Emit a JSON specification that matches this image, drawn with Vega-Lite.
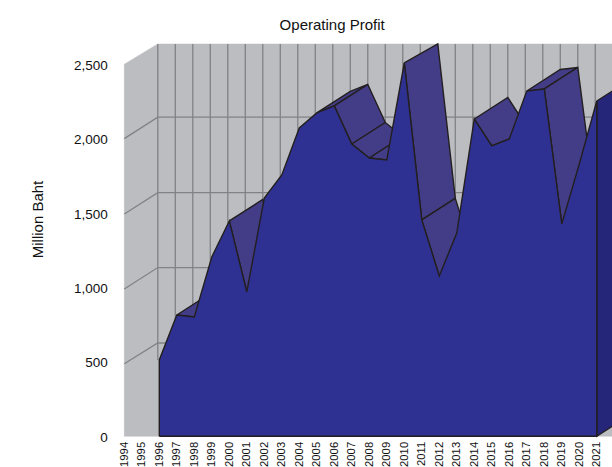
{"$schema":"https://vega.github.io/schema/vega-lite/v6.json","width":487.7,"height":392.3,"autosize":"none","padding":{"left":124.3,"top":44,"right":0,"bottom":30.7},"background":"white","config":{"view":{"stroke":null},"font":"Liberation Sans"},
"title":{"text":"Operating Profit","font":"Liberation Sans","fontSize":15,"fontWeight":"normal","color":"#111111","anchor":"middle","dx":-36,"offset":8},
"datasets":{
"wall":[{"x":1994,"y":2500,"o":1},{"x":1995.914,"y":2636,"o":2},{"x":2023,"y":2636,"o":3},{"x":2023,"y":0,"o":4},{"x":1994,"y":0,"o":5},{"x":1994,"y":2500,"o":6}],
"grid":[
{"g":"h500","x":1994,"y":487,"o":1},{"g":"h500","x":1995.914,"y":627,"o":2},{"g":"h500","x":2023,"y":627,"o":3},
{"g":"h1000","x":1994,"y":990,"o":1},{"g":"h1000","x":1995.914,"y":1134,"o":2},{"g":"h1000","x":2023,"y":1134,"o":3},
{"g":"h1500","x":1994,"y":1494,"o":1},{"g":"h1500","x":1995.914,"y":1637,"o":2},{"g":"h1500","x":2023,"y":1637,"o":3},
{"g":"h2000","x":1994,"y":2000,"o":1},{"g":"h2000","x":1995.914,"y":2144.5,"o":2},{"g":"h2000","x":2023,"y":2144.5,"o":3},
{"g":"v1996","x":1995.914,"y":513,"o":1},{"g":"v1996","x":1995.914,"y":2636,"o":2},
{"g":"v1997","x":1996.914,"y":144.5,"o":1},{"g":"v1997","x":1996.914,"y":2636,"o":2},
{"g":"v1998","x":1997.914,"y":144.5,"o":1},{"g":"v1998","x":1997.914,"y":2636,"o":2},
{"g":"v1999","x":1998.914,"y":144.5,"o":1},{"g":"v1999","x":1998.914,"y":2636,"o":2},
{"g":"v2000","x":1999.914,"y":144.5,"o":1},{"g":"v2000","x":1999.914,"y":2636,"o":2},
{"g":"v2001","x":2000.914,"y":144.5,"o":1},{"g":"v2001","x":2000.914,"y":2636,"o":2},
{"g":"v2002","x":2001.914,"y":144.5,"o":1},{"g":"v2002","x":2001.914,"y":2636,"o":2},
{"g":"v2003","x":2002.914,"y":144.5,"o":1},{"g":"v2003","x":2002.914,"y":2636,"o":2},
{"g":"v2004","x":2003.914,"y":144.5,"o":1},{"g":"v2004","x":2003.914,"y":2636,"o":2},
{"g":"v2005","x":2004.914,"y":144.5,"o":1},{"g":"v2005","x":2004.914,"y":2636,"o":2},
{"g":"v2006","x":2005.914,"y":144.5,"o":1},{"g":"v2006","x":2005.914,"y":2636,"o":2},
{"g":"v2007","x":2006.914,"y":144.5,"o":1},{"g":"v2007","x":2006.914,"y":2636,"o":2},
{"g":"v2008","x":2007.914,"y":144.5,"o":1},{"g":"v2008","x":2007.914,"y":2636,"o":2},
{"g":"v2009","x":2008.914,"y":144.5,"o":1},{"g":"v2009","x":2008.914,"y":2636,"o":2},
{"g":"v2010","x":2009.914,"y":144.5,"o":1},{"g":"v2010","x":2009.914,"y":2636,"o":2},
{"g":"v2011","x":2010.914,"y":144.5,"o":1},{"g":"v2011","x":2010.914,"y":2636,"o":2},
{"g":"v2012","x":2011.914,"y":144.5,"o":1},{"g":"v2012","x":2011.914,"y":2636,"o":2},
{"g":"v2013","x":2012.914,"y":144.5,"o":1},{"g":"v2013","x":2012.914,"y":2636,"o":2},
{"g":"v2014","x":2013.914,"y":144.5,"o":1},{"g":"v2014","x":2013.914,"y":2636,"o":2},
{"g":"v2015","x":2014.914,"y":144.5,"o":1},{"g":"v2015","x":2014.914,"y":2636,"o":2},
{"g":"v2016","x":2015.914,"y":144.5,"o":1},{"g":"v2016","x":2015.914,"y":2636,"o":2},
{"g":"v2017","x":2016.914,"y":144.5,"o":1},{"g":"v2017","x":2016.914,"y":2636,"o":2},
{"g":"v2018","x":2017.914,"y":144.5,"o":1},{"g":"v2018","x":2017.914,"y":2636,"o":2},
{"g":"v2019","x":2018.914,"y":144.5,"o":1},{"g":"v2019","x":2018.914,"y":2636,"o":2},
{"g":"v2020","x":2019.914,"y":144.5,"o":1},{"g":"v2020","x":2019.914,"y":2636,"o":2},
{"g":"v2021","x":2020.914,"y":144.5,"o":1},{"g":"v2021","x":2020.914,"y":2636,"o":2}
],
"quads":[
{"g":"a01","x":1997,"y":815,"o":1},{"g":"a01","x":1998,"y":802,"o":2},{"g":"a01","x":1999.914,"y":946.5,"o":3},{"g":"a01","x":1998.914,"y":959.5,"o":4},{"g":"a01","x":1997,"y":815,"o":5},
{"g":"a02","x":2000,"y":1447,"o":1},{"g":"a02","x":2001,"y":970,"o":2},{"g":"a02","x":2002.914,"y":1114.5,"o":3},{"g":"a02","x":2001.914,"y":1591.5,"o":4},{"g":"a02","x":2000,"y":1447,"o":5},
{"g":"a03","x":2005,"y":2173,"o":1},{"g":"a03","x":2006,"y":2220,"o":2},{"g":"a03","x":2007.914,"y":2364.5,"o":3},{"g":"a03","x":2006.914,"y":2317.5,"o":4},{"g":"a03","x":2005,"y":2173,"o":5},
{"g":"a04","x":2006,"y":2220,"o":1},{"g":"a04","x":2007,"y":1964,"o":2},{"g":"a04","x":2008.914,"y":2108.5,"o":3},{"g":"a04","x":2007.914,"y":2364.5,"o":4},{"g":"a04","x":2006,"y":2220,"o":5},
{"g":"a05","x":2007,"y":1964,"o":1},{"g":"a05","x":2008,"y":1870,"o":2},{"g":"a05","x":2009.914,"y":2014.5,"o":3},{"g":"a05","x":2008.914,"y":2108.5,"o":4},{"g":"a05","x":2007,"y":1964,"o":5},
{"g":"a06","x":2008,"y":1870,"o":1},{"g":"a06","x":2009,"y":1857,"o":2},{"g":"a06","x":2010.914,"y":2001.5,"o":3},{"g":"a06","x":2009.914,"y":2014.5,"o":4},{"g":"a06","x":2008,"y":1870,"o":5},
{"g":"a07","x":2010,"y":2509,"o":1},{"g":"a07","x":2011,"y":1454,"o":2},{"g":"a07","x":2012.914,"y":1598.5,"o":3},{"g":"a07","x":2011.914,"y":2636,"o":4},{"g":"a07","x":2010,"y":2509,"o":5},
{"g":"a08","x":2011,"y":1454,"o":1},{"g":"a08","x":2012,"y":1077,"o":2},{"g":"a08","x":2013.914,"y":1221.5,"o":3},{"g":"a08","x":2012.914,"y":1598.5,"o":4},{"g":"a08","x":2011,"y":1454,"o":5},
{"g":"a09","x":2014,"y":2132,"o":1},{"g":"a09","x":2015,"y":1951,"o":2},{"g":"a09","x":2016,"y":1998,"o":3},{"g":"a09","x":2017.914,"y":2142.5,"o":4},{"g":"a09","x":2016.914,"y":2095.5,"o":5},{"g":"a09","x":2015.914,"y":2276.5,"o":6},{"g":"a09","x":2014,"y":2132,"o":7},
{"g":"a10","x":2017,"y":2320,"o":1},{"g":"a10","x":2018,"y":2334,"o":2},{"g":"a10","x":2019.914,"y":2478.5,"o":3},{"g":"a10","x":2018.914,"y":2464.5,"o":4},{"g":"a10","x":2017,"y":2320,"o":5},
{"g":"a11","x":2018,"y":2334,"o":1},{"g":"a11","x":2019,"y":1427,"o":2},{"g":"a11","x":2020.914,"y":1571.5,"o":3},{"g":"a11","x":2019.914,"y":2478.5,"o":4},{"g":"a11","x":2018,"y":2334,"o":5}
],
"side":[{"x":2021,"y":2253,"o":1},{"x":2022.914,"y":2397.5,"o":2},{"x":2022.914,"y":144.5,"o":3},{"x":2021,"y":0,"o":4},{"x":2021,"y":2253,"o":5}],
"front":[
{"x":1996,"y":0,"o":0},{"x":1996,"y":513,"o":1},{"x":1997,"y":815,"o":2},{"x":1998,"y":802,"o":3},{"x":1999,"y":1205,"o":4},{"x":2000,"y":1447,"o":5},{"x":2001,"y":970,"o":6},{"x":2002,"y":1601,"o":7},{"x":2003,"y":1756,"o":8},{"x":2004,"y":2072,"o":9},{"x":2005,"y":2173,"o":10},{"x":2006,"y":2220,"o":11},{"x":2007,"y":1964,"o":12},{"x":2008,"y":1870,"o":13},{"x":2009,"y":1857,"o":14},{"x":2010,"y":2509,"o":15},{"x":2011,"y":1454,"o":16},{"x":2012,"y":1077,"o":17},{"x":2013,"y":1366,"o":18},{"x":2014,"y":2132,"o":19},{"x":2015,"y":1951,"o":20},{"x":2016,"y":1998,"o":21},{"x":2017,"y":2320,"o":22},{"x":2018,"y":2334,"o":23},{"x":2019,"y":1427,"o":24},{"x":2020,"y":1830,"o":25},{"x":2021,"y":2253,"o":26},{"x":2021,"y":0,"o":27},{"x":1996,"y":0,"o":28}
]},
"encoding":{
"x":{"field":"x","type":"quantitative","title":null,"scale":{"domain":[1994,2021.87],"nice":false,"zero":false},
"axis":{"values":[1994,1995,1996,1997,1998,1999,2000,2001,2002,2003,2004,2005,2006,2007,2008,2009,2010,2011,2012,2013,2014,2015,2016,2017,2018,2019,2020,2021],"format":"d","labelAngle":-90,"labelAlign":"right","labelBaseline":"middle","labelFontSize":11.3,"labelColor":"#111111","labelPadding":5,"labelOverlap":false,"labelFlush":false,"domain":false,"ticks":false,"grid":false,"labelBound":false}},
"y":{"field":"y","type":"quantitative","title":"Million Baht","scale":{"domain":[0,2636],"nice":false},
"axis":{"values":[0,500,1000,1500,2000,2500],"format":",d","labelFontSize":13.5,"labelColor":"#111111","labelPadding":17,"labelOffset":1,"domain":false,"ticks":false,"grid":false,"titleFontSize":15,"titleFontWeight":"normal","titleColor":"#111111","titleX":-87.3,"titleY":175,"titleAlign":"center","titleBaseline":"middle"}},
"order":{"field":"o","type":"quantitative"}
},
"layer":[
{"data":{"name":"wall"},"mark":{"type":"line","fill":"#bcbdc0","stroke":"#bcbdc0","strokeWidth":0.5}},
{"data":{"name":"grid"},"mark":{"type":"line","stroke":"#808285","strokeWidth":1.3},"encoding":{"detail":{"field":"g"}}},
{"data":{"name":"quads"},"mark":{"type":"line","fill":"#433d87","stroke":"#231f20","strokeWidth":1.4},"encoding":{"detail":{"field":"g"}}},
{"data":{"name":"side"},"mark":{"type":"line","fill":"#25267a","stroke":"#231f20","strokeWidth":1.4}},
{"data":{"name":"front"},"mark":{"type":"line","fill":"#2e3191","stroke":"#231f20","strokeWidth":1.4}}
]}
